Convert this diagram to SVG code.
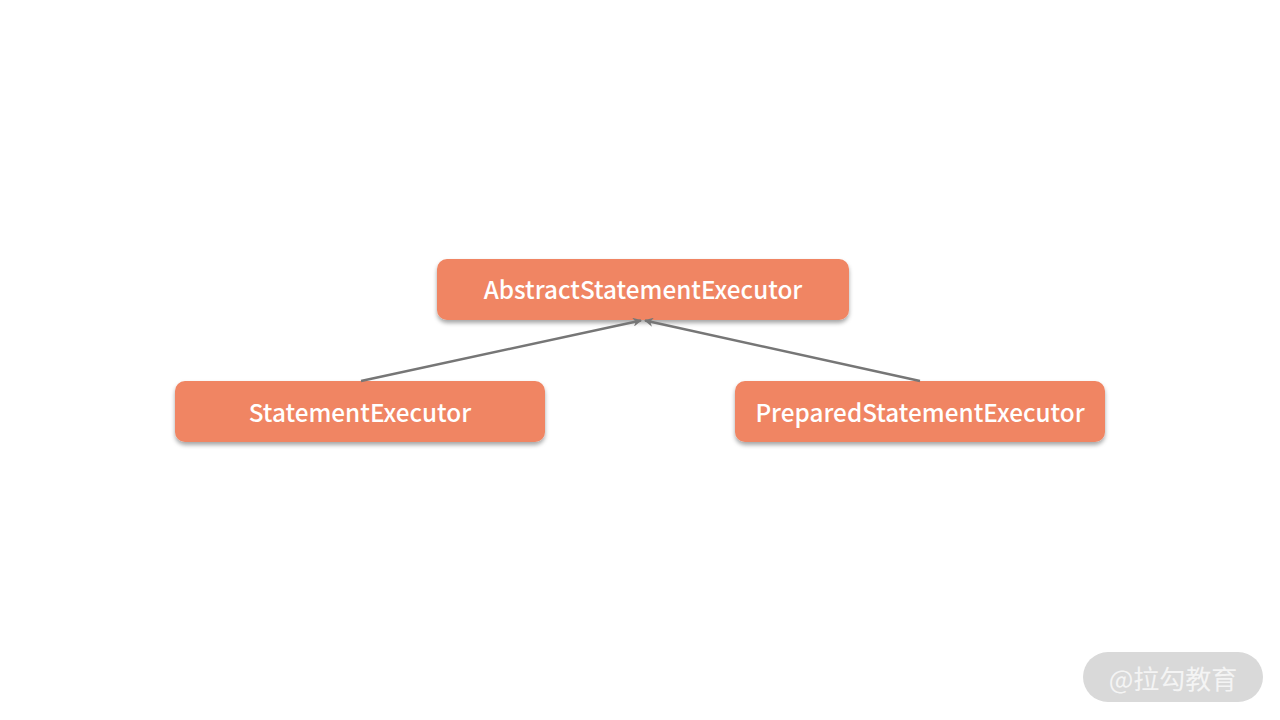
<svg xmlns="http://www.w3.org/2000/svg" width="1280" height="720" viewBox="0 0 1280 720">
<defs>
<style>
.box{fill:#F08563;}
.lbl{font-family:"Noto Sans CJK SC","Noto Sans",sans-serif;font-size:24.3px;font-weight:500;fill:#ffffff;text-anchor:middle;dominant-baseline:central;}
.edge{stroke:#767676;stroke-width:2.4;fill:none;}
</style>
<filter id="sh" x="-10%" y="-20%" width="120%" height="160%">
<feDropShadow dx="0" dy="3" stdDeviation="2" flood-color="#000" flood-opacity="0.35"/>
</filter>
<marker id="arr" viewBox="0 0 10 10" refX="9" refY="5" markerWidth="9" markerHeight="9" orient="auto" markerUnits="userSpaceOnUse">
<path d="M0,0 L10,5 L0,10 L3,5 Z" fill="#767676"/>
</marker>
</defs>
<rect width="1280" height="720" fill="#ffffff"/>
<g id="node-abstract">
<rect class="box" x="437" y="259" width="412" height="61" rx="10" filter="url(#sh)"/>
<text class="lbl" x="643" y="288">AbstractStatementExecutor</text>
</g>
<g id="node-statement">
<rect class="box" x="175" y="381" width="370" height="61" rx="10" filter="url(#sh)"/>
<text class="lbl" x="360" y="411">StatementExecutor</text>
</g>
<g id="node-prepared">
<rect class="box" x="735" y="381" width="370" height="61" rx="10" filter="url(#sh)"/>
<text class="lbl" x="920" y="411">PreparedStatementExecutor</text>
</g>
<g id="connectors">
<line class="edge" x1="361" y1="381" x2="641" y2="320.5" marker-end="url(#arr)"/>
<line class="edge" x1="920" y1="381" x2="645" y2="320.5" marker-end="url(#arr)"/>
</g>
<g id="watermark">
<rect x="1083" y="652" width="180" height="50" rx="25" fill="#d9d9d9"/>
<text x="1173" y="677" font-family="Noto Sans CJK SC,sans-serif" font-size="26" fill="#f4f4f4" text-anchor="middle" dominant-baseline="central">@拉勾教育</text>
</g>
</svg>
